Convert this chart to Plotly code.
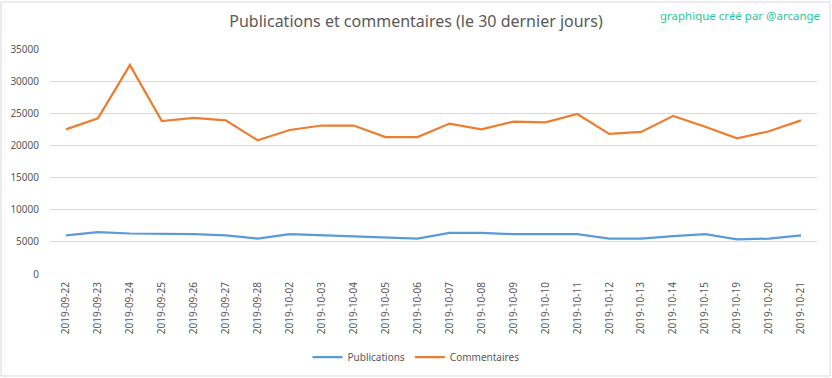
import plotly.graph_objects as go

dates = ["2019-09-22", "2019-09-23", "2019-09-24", "2019-09-25", "2019-09-26", "2019-09-27",
         "2019-09-28", "2019-10-02", "2019-10-03", "2019-10-04", "2019-10-05", "2019-10-06",
         "2019-10-07", "2019-10-08", "2019-10-09", "2019-10-10", "2019-10-11", "2019-10-12",
         "2019-10-13", "2019-10-14", "2019-10-15", "2019-10-19", "2019-10-20", "2019-10-21"]

publications = [6000, 6500, 6300, 6300, 6200, 6000, 5500, 6200, 6000, 5900, 5700, 5500,
                6400, 6400, 6200, 6200, 6200, 5500, 5500, 5900, 6200, 5400, 5500, 6000]

commentaires = [22500, 24200, 32500, 23800, 24300, 23900, 20800, 22400, 23100, 23100, 21300, 21300,
                23400, 22500, 23700, 23600, 24900, 21800, 22100, 24600, 22900, 21100, 22200, 23900]

y_ticks = [0, 5000, 10000, 15000, 20000, 25000, 30000, 35000]

FONT = "Noto Sans"
GREY = "#595959"

fig = go.Figure()
fig.add_trace(go.Scatter(x=dates, y=publications, mode="lines", name="Publications",
                         line=dict(color="#5B9BD5", width=2.25)))
fig.add_trace(go.Scatter(x=dates, y=commentaires, mode="lines", name="Commentaires",
                         line=dict(color="#ED7D31", width=2.25)))

fig.update_layout(
    width=832, height=378,
    margin=dict(l=50, r=15, t=49, b=104, autoexpand=False),
    paper_bgcolor="white", plot_bgcolor="white",
    font=dict(family=FONT, size=10, color=GREY),
    title=dict(text="Publications et commentaires (le 30 dernier jours)",
               x=0.5, xanchor="center", y=1 - 21 / 378, yanchor="middle",
               font=dict(family=FONT, size=16, color=GREY)),
    xaxis=dict(type="category", tickangle=-90, showgrid=False, showline=False,
               range=[-0.5, len(dates) - 0.5], automargin=False, ticklabelstandoff=5,
               ticks="", tickfont=dict(size=10, color=GREY)),
    yaxis=dict(range=[0, 35000], tickvals=y_ticks, ticktext=[str(v) for v in y_ticks],
               showgrid=True, gridcolor="#D9D9D9", gridwidth=1, zeroline=False,
               automargin=False, ticklabelstandoff=10,
               showline=False, ticks="", tickfont=dict(size=10, color=GREY)),
    legend=dict(orientation="h", x=(416 - 50) / 767, xanchor="center", y=-0.369, yanchor="middle",
                font=dict(size=10, color=GREY), itemwidth=30),
    showlegend=True,
)

fig.add_annotation(text="graphique créé par @arcange", xref="paper", yref="paper",
                   x=1.007, xanchor="right", y=1 + 33 / 225, yanchor="middle",
                   showarrow=False, font=dict(family=FONT, size=11.5, color="#2BC79A"))

# chart border
fig.add_shape(type="rect", xref="paper", yref="paper",
              x0=-49 / 767, x1=1 + 13 / 767, y0=-102 / 225, y1=1 + 47 / 225,
              line=dict(color="#D9D9D9", width=1), layer="below")

fig.write_html("out.html", config={"displayModeBar": False},
               post_script="document.body.style.margin='0';document.body.style.overflow='hidden';")
